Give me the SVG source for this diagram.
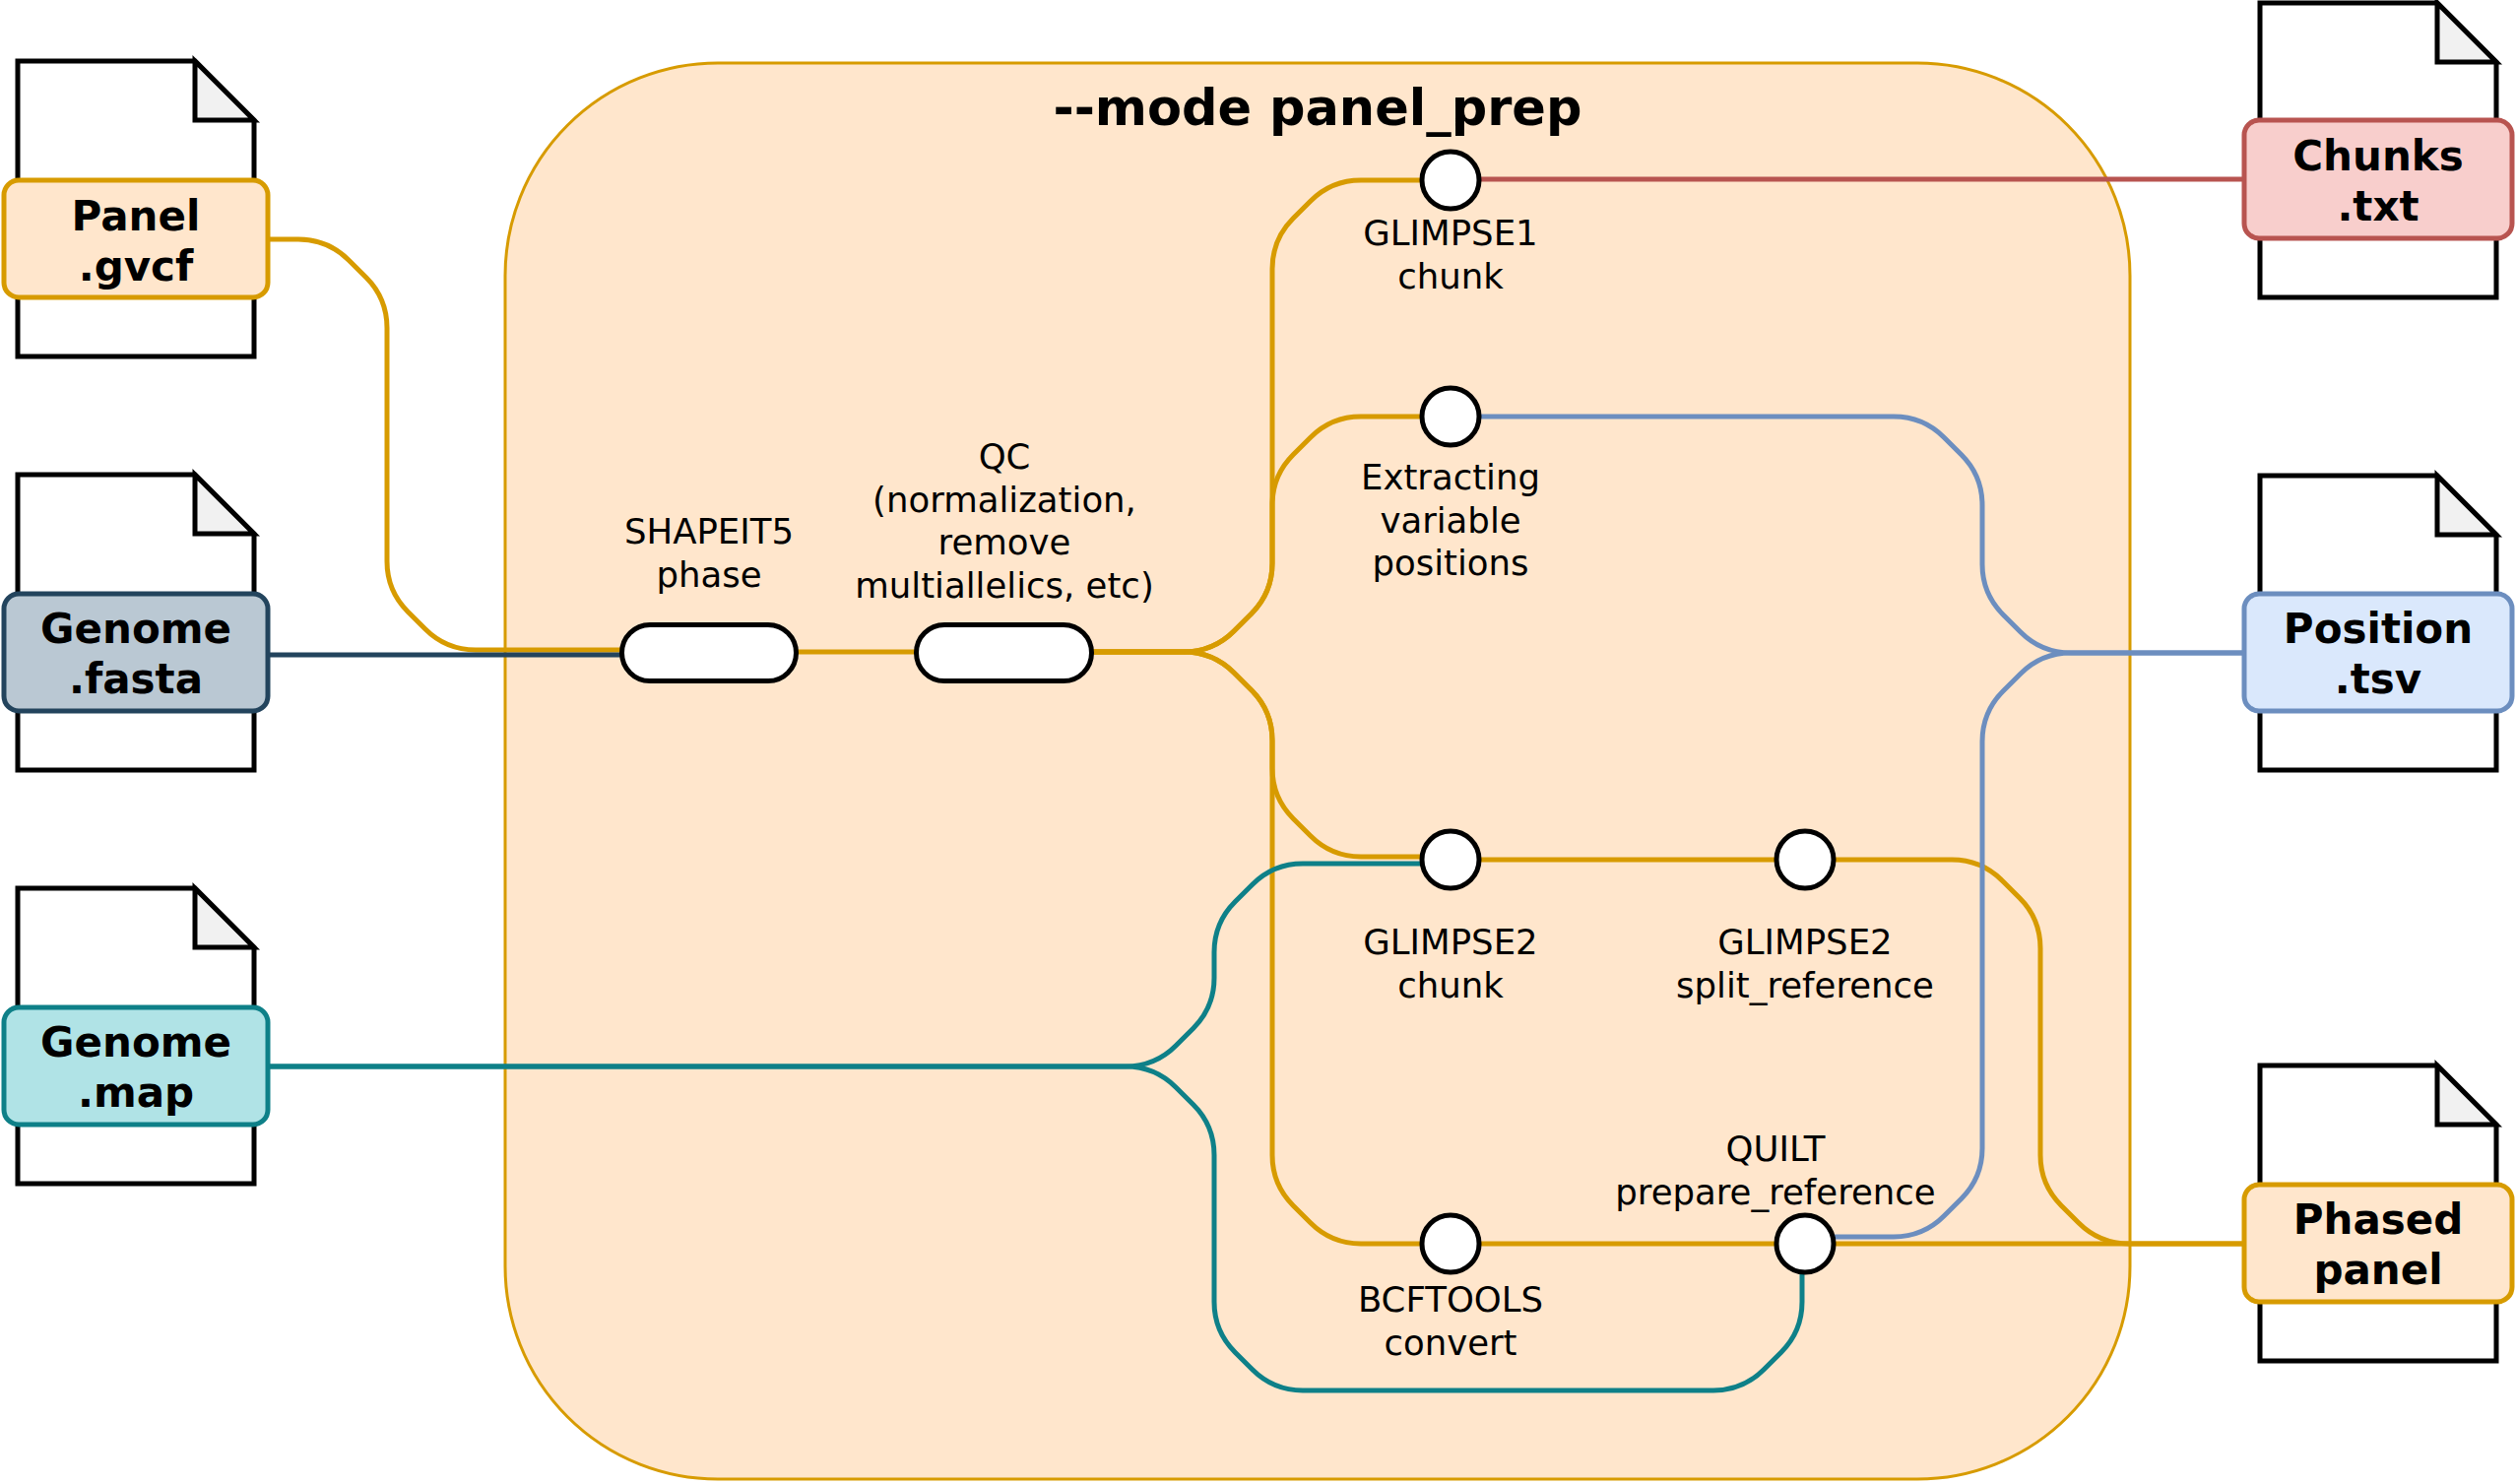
<svg xmlns="http://www.w3.org/2000/svg" width="2555" height="1507" viewBox="0 0 2555 1507">
<defs>
<style>
text{font-family:"DejaVu Sans","Liberation Sans",sans-serif;fill:#000}
.lbl{font-size:35.5px;text-anchor:middle}
.box{font-size:42px;font-weight:bold;text-anchor:middle}
.title{font-size:51px;font-weight:bold;text-anchor:middle}
.doc{fill:#fff;stroke:#000;stroke-width:5}
.fold{fill:#f1f1f1;stroke:#000;stroke-width:5;stroke-linejoin:miter}
.c{fill:none;stroke-width:5;stroke-linejoin:round}
.y{stroke:#d79b00}.b{stroke:#6c8ebf}.r{stroke:#b85450}.t{stroke:#0e8088}.d{stroke:#23445d}
.st{fill:#fff;stroke:#000;stroke-width:5}
</style>
</defs>
<rect width="2555" height="1507" fill="#fff"/>
<g id="panel_prep">
<rect x="513" y="64" width="1650" height="1438" rx="216" ry="216" fill="#ffe6cc" stroke="#d79b00" stroke-width="3"/>
<text class="title" x="1338" y="127">--mode panel_prep</text>
</g>
<g id="connectors">
<path class="c y" d="M272,243 L303,243 Q333,243 354.2,264.2 L371.8,281.8 Q393,303 393,333 L393,570 Q393,600 414.2,621.2 L431.8,638.8 Q453,660 483,660 L633,660"/>
<path class="c d" d="M272,665 L633,665"/>
<path class="c y" d="M809,662 L932,662"/>
<path class="c y" d="M1108,662 L1202,662 Q1232,662 1253.2,640.8 L1270.8,623.2 Q1292,602 1292,572 L1292,273 Q1292,243 1313.2,221.8 L1330.8,204.2 Q1352,183 1382,183 L1446,183"/>
<path class="c y" d="M1108,662 L1202,662 Q1232,662 1253.2,640.8 L1270.8,623.2 Q1292,602 1292,572 L1292,513 Q1292,483 1313.2,461.8 L1330.8,444.2 Q1352,423 1382,423 L1446,423"/>
<path class="c y" d="M1108,662 L1202,662 Q1232,662 1253.2,683.2 L1270.8,700.8 Q1292,722 1292,752 L1292,780 Q1292,810 1313.2,831.2 L1330.8,848.8 Q1352,870 1382,870 L1446,870"/>
<path class="c y" d="M1108,662 L1202,662 Q1232,662 1253.2,683.2 L1270.8,700.8 Q1292,722 1292,752 L1292,1173 Q1292,1203 1313.2,1224.2 L1330.8,1241.8 Q1352,1263 1382,1263 L1446,1263"/>
<path class="c y" d="M1500,873 L1806,873"/>
<path class="c y" d="M1500,1263 L1806,1263"/>
<path class="c y" d="M1860,873 L1982,873 Q2012,873 2033.2,894.2 L2050.8,911.8 Q2072,933 2072,963 L2072,1173 Q2072,1203 2093.2,1224.2 L2110.8,1241.8 Q2132,1263 2162,1263 L2279,1263"/>
<path class="c y" d="M1860,1263 L2279,1263"/>
<path class="c t" d="M272,1083 L1143,1083 Q1173,1083 1194.2,1061.8 L1211.8,1044.2 Q1233,1023 1233,993 L1233,967 Q1233,937 1254.2,915.8 L1271.8,898.2 Q1293,877 1323,877 L1446,877"/>
<path class="c t" d="M272,1083 L1143,1083 Q1173,1083 1194.2,1104.2 L1211.8,1121.8 Q1233,1143 1233,1173 L1233,1322 Q1233,1352 1254.2,1373.2 L1271.8,1390.8 Q1293,1412 1323,1412 L1740,1412 Q1770,1412 1791.2,1390.8 L1808.8,1373.2 Q1830,1352 1830,1322 L1830,1290"/>
<path class="c b" d="M1500,423 L1923,423 Q1953,423 1974.2,444.2 L1991.8,461.8 Q2013,483 2013,513 L2013,573 Q2013,603 2034.2,624.2 L2051.8,641.8 Q2073,663 2103,663 L2279,663"/>
<path class="c b" d="M2279,663 L2103,663 Q2073,663 2051.8,684.2 L2034.2,701.8 Q2013,723 2013,753 L2013,1166 Q2013,1196 1991.8,1217.2 L1974.2,1234.8 Q1953,1256 1923,1256 L1860,1256"/>
<path class="c r" d="M1500,182 L2279,182"/>
</g>
<g id="panel_gvcf">
<path class="doc" d="M18,62 H198 L258,122 V362 H18 Z"/>
<path class="fold" d="M198,62 V122 H258 Z"/>
<rect x="4" y="183" width="268" height="119" rx="15" fill="#ffe6cc" stroke="#d79b00" stroke-width="5"/>
<text class="box" x="138" y="234">Panel</text>
<text class="box" x="138" y="285">.gvcf</text>
</g>
<g id="genome_fasta">
<path class="doc" d="M18,482 H198 L258,542 V782 H18 Z"/>
<path class="fold" d="M198,482 V542 H258 Z"/>
<rect x="4" y="603" width="268" height="119" rx="15" fill="#bac8d3" stroke="#23445d" stroke-width="5"/>
<text class="box" x="138" y="653">Genome</text>
<text class="box" x="138" y="704">.fasta</text>
</g>
<g id="genome_map">
<path class="doc" d="M18,902 H198 L258,962 V1202 H18 Z"/>
<path class="fold" d="M198,902 V962 H258 Z"/>
<rect x="4" y="1023" width="268" height="119" rx="15" fill="#b0e3e6" stroke="#0e8088" stroke-width="5"/>
<text class="box" x="138" y="1073">Genome</text>
<text class="box" x="138" y="1124">.map</text>
</g>
<g id="chunks_txt">
<path class="doc" d="M2295,3 H2475 L2535,63 V302 H2295 Z"/>
<path class="fold" d="M2475,3 V63 H2535 Z"/>
<rect x="2279" y="122" width="272" height="120" rx="15" fill="#f8cecc" stroke="#b85450" stroke-width="5"/>
<text class="box" x="2415" y="173">Chunks</text>
<text class="box" x="2415" y="224">.txt</text>
</g>
<g id="position_tsv">
<path class="doc" d="M2295,483 H2475 L2535,543 V782 H2295 Z"/>
<path class="fold" d="M2475,483 V543 H2535 Z"/>
<rect x="2279" y="603" width="272" height="119" rx="15" fill="#dae8fc" stroke="#6c8ebf" stroke-width="5"/>
<text class="box" x="2415" y="653">Position</text>
<text class="box" x="2415" y="704">.tsv</text>
</g>
<g id="phased_panel">
<path class="doc" d="M2295,1082 H2475 L2535,1142 V1382 H2295 Z"/>
<path class="fold" d="M2475,1082 V1142 H2535 Z"/>
<rect x="2279" y="1203" width="272" height="119" rx="15" fill="#ffe6cc" stroke="#d79b00" stroke-width="5"/>
<text class="box" x="2415" y="1253">Phased</text>
<text class="box" x="2415" y="1304">panel</text>
</g>
<g id="shapeit5_phase">
<rect class="st" x="631.5" y="634.5" width="177" height="57" rx="28.5"/>
<text class="lbl" x="720" y="552">SHAPEIT5</text>
<text class="lbl" x="720" y="596">phase</text>
</g>
<g id="qc">
<rect class="st" x="930.5" y="634.5" width="178" height="57" rx="28.5"/>
<text class="lbl" x="1020" y="476">QC</text>
<text class="lbl" x="1020" y="519.5">(normalization,</text>
<text class="lbl" x="1020" y="563">remove</text>
<text class="lbl" x="1020" y="606.5">multiallelics, etc)</text>
</g>
<g id="glimpse1_chunk">
<circle class="st" cx="1473" cy="183" r="29"/>
<text class="lbl" x="1473" y="249">GLIMPSE1</text>
<text class="lbl" x="1473" y="293">chunk</text>
</g>
<g id="extracting_positions">
<circle class="st" cx="1473" cy="423" r="29"/>
<text class="lbl" x="1473" y="497">Extracting</text>
<text class="lbl" x="1473" y="540.5">variable</text>
<text class="lbl" x="1473" y="584">positions</text>
</g>
<g id="glimpse2_chunk">
<circle class="st" cx="1473" cy="873" r="29"/>
<text class="lbl" x="1473" y="968.5">GLIMPSE2</text>
<text class="lbl" x="1473" y="1012.5">chunk</text>
</g>
<g id="glimpse2_split_reference">
<circle class="st" cx="1833" cy="873" r="29"/>
<text class="lbl" x="1833" y="968.5">GLIMPSE2</text>
<text class="lbl" x="1833" y="1012.5">split_reference</text>
</g>
<g id="bcftools_convert">
<circle class="st" cx="1473" cy="1263" r="29"/>
<text class="lbl" x="1473" y="1332">BCFTOOLS</text>
<text class="lbl" x="1473" y="1376">convert</text>
</g>
<g id="quilt_prepare_reference">
<circle class="st" cx="1833" cy="1263" r="29"/>
<text class="lbl" x="1803" y="1179">QUILT</text>
<text class="lbl" x="1803" y="1223">prepare_reference</text>
</g>
</svg>
